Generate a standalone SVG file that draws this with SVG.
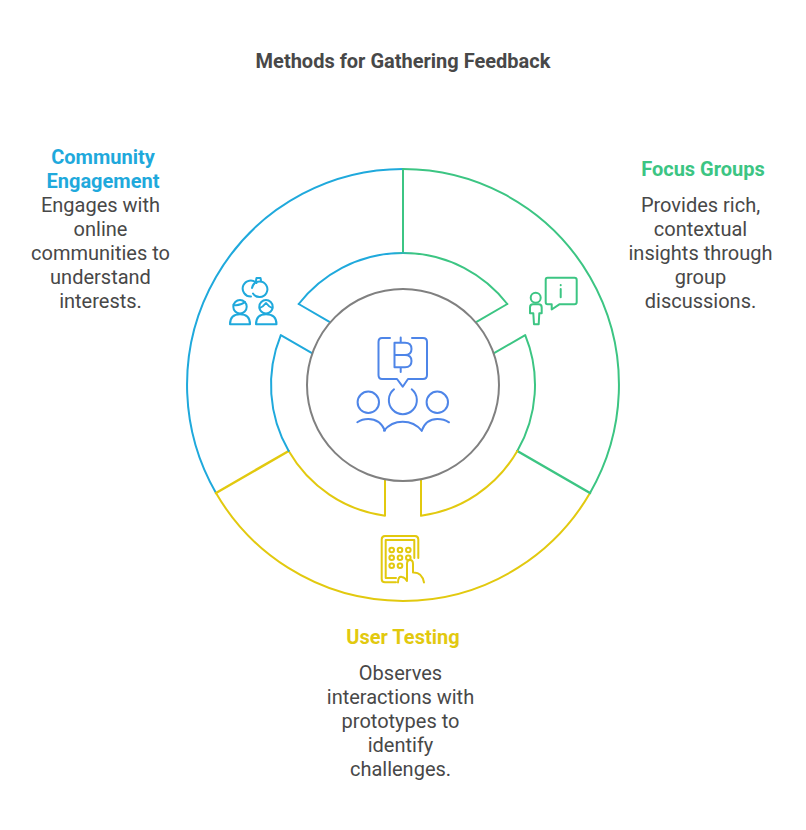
<svg xmlns="http://www.w3.org/2000/svg" width="806" height="830" viewBox="0 0 806 830">
<style>
.t{font-family:Roboto,"Liberation Sans",sans-serif;font-size:20px;fill:#484848;text-anchor:middle}
.h{font-weight:700}
.r{fill:none;stroke-width:2;stroke-linecap:round;stroke-linejoin:round}
.s{fill:none;stroke-width:2.500;stroke-linecap:round}
.i{fill:none;stroke-width:2;stroke-linecap:round;stroke-linejoin:round}
.b{stroke:#1FA9DC}.g{stroke:#3CC583}.y{stroke:#E2C90F}
</style>
<defs>
<linearGradient id="bg" gradientUnits="userSpaceOnUse" x1="393" y1="0" x2="413" y2="0"><stop offset="0" stop-color="#1FA9DC"/><stop offset="1" stop-color="#3CC583"/></linearGradient>
</defs>
<rect width="806" height="830" fill="#fff"/>
<text class="t h" x="403" y="68">Methods for Gathering Feedback</text>
<g id="connectors">
<path class="r b" d="M403 169A216 216 0 0 0 216 493"/>
<path class="r g" d="M403 169A216 216 0 0 1 590 493"/>
<path class="r y" d="M590 493A216 216 0 0 1 216 493"/>
<path class="r g" d="M403 169V253"/>
<path class="s g" d="M590 493L517.300 451"/>
<path class="s y" d="M216 493L288.700 451"/>
<path class="r" stroke="url(#bg)" d="M298.700 304A132 132 0 0 1 507.300 304"/>
<path class="r b" d="M298.700 304L330.300 322.300"/>
<path class="r g" d="M507.300 304L475.700 322.300"/>
<path class="r g" d="M493.600 353.400L525.200 335.100A132 132 0 0 1 517.300 451"/>
<path class="r y" d="M517.300 451A132 132 0 0 1 421 515.800V479"/>
<path class="r y" d="M385 479V515.800A132 132 0 0 1 288.700 451"/>
<path class="r b" d="M288.700 451A132 132 0 0 1 280.800 335.100L312.400 353.400"/>
</g>
<g id="hub">
<circle cx="403" cy="385" r="96" fill="#fff" stroke="#808080" stroke-width="2"/>
<g class="i" stroke="#4E85E8">
<path d="M390 338H382Q378.500 338 378.500 342V375Q378.500 379 382 379H397L402.700 386.700L408 379H423Q427 379 427 375V342Q427 338 423 338H412"/>
<path d="M394.500 342.700H405Q411.500 342.700 411.500 349Q411.500 355 405 355H394.500M405 355Q411.500 355 411.500 361Q411.500 367.300 405 367.300H394.500M394.500 342.700V367.300M400.700 337.500V342.700M400.700 367.300V372"/>
<circle cx="368.300" cy="402.300" r="10.700"/>
<circle cx="437.300" cy="402.300" r="10.700"/>
<path d="M394 389.300A14 14 0 1 0 411.700 389.300"/>
<path d="M357.300 422.300Q362 419 368.300 419Q380 419 385 430.700"/>
<path d="M384 430.700Q391 421.700 402.700 421.700Q414.500 421.700 421.700 430.700"/>
<path d="M421.700 430.700Q426 419 437.300 419Q444 419 449 422.300"/>
</g>
</g>
<g id="community-engagement">
<g class="i b">
<path d="M256.500 283A8 8 0 1 0 251 296.500"/>
<path d="M252 288Q253.500 281.500 259.500 281.500A7.800 7.800 0 1 1 253 293.500"/>
<path d="M256 280.500L256.500 278H260.500L261 280.500"/>
<circle cx="240" cy="306.700" r="6.700"/>
<path d="M233.500 305Q240 306 245 302"/>
<path d="M230 324.300Q230 314.300 240 314.300Q250 314.300 250 324.300Z"/>
<circle cx="266" cy="306.700" r="6.700"/>
<path d="M259.500 308Q263 307 266 303Q269 307 272.500 308"/>
<path d="M256 324.300Q256 314.300 266 314.300Q276.500 314.300 276.500 324.300Z"/>
</g>
<text class="t h" style="fill:#1FA9DC" x="103" y="164">Community</text>
<text class="t h" style="fill:#1FA9DC" x="103" y="188">Engagement</text>
<text class="t" x="100.500" y="212">Engages with</text>
<text class="t" x="100.500" y="236">online</text>
<text class="t" x="100.500" y="260">communities to</text>
<text class="t" x="100.500" y="284">understand</text>
<text class="t" x="100.500" y="308">interests.</text>
</g>
<g id="focus-groups">
<g class="i g">
<path d="M547.500 277.700H574.500Q576.700 277.700 576.700 280V302Q576.700 304.300 574.500 304.300H559.300L551.700 309.500V304.300H547.500Q545.700 304.300 545.700 302V280Q545.700 277.700 547.500 277.700Z"/>
<path d="M560.700 285V285.200M560.700 289V297.300"/>
<circle cx="535.700" cy="297.700" r="5"/>
<path d="M533 304.300H538.500Q541.700 304.300 541.700 307.500V313.300H539.300L538.700 324.300H534L533.300 313.300H530V307.500Q530 304.300 533 304.300Z"/>
</g>
<text class="t h" style="fill:#3CC583" x="703" y="176">Focus Groups</text>
<text class="t" x="700.500" y="212">Provides rich,</text>
<text class="t" x="700.500" y="236">contextual</text>
<text class="t" x="700.500" y="260">insights through</text>
<text class="t" x="700.500" y="284">group</text>
<text class="t" x="700.500" y="308">discussions.</text>
</g>
<g id="user-testing">
<g class="i y">
<path d="M418.300 558V539.500Q418.300 536 415 536H385Q381.700 536 381.700 539.500V579Q381.700 582.300 385 582.300H396"/>
<path d="M414.300 558V540H385.700V578H396"/>
<circle cx="391.700" cy="550" r="2.300"/><circle cx="400" cy="550" r="2.300"/><circle cx="408.300" cy="550" r="2.300"/>
<circle cx="391.700" cy="557.700" r="2.300"/><circle cx="400" cy="557.700" r="2.300"/><circle cx="408.300" cy="557.700" r="2.300"/>
<circle cx="391.700" cy="565.700" r="2.300"/><circle cx="400" cy="565.700" r="2.300"/>
<path d="M398 582.500Q398 576 402 577Q405 577.500 407 581V564Q407 560 410 560Q413 560 413 564V572.500Q422 572 424 582.500"/>
</g>
<text class="t h" style="fill:#E2C90F" x="403" y="644">User Testing</text>
<text class="t" x="400.500" y="680">Observes</text>
<text class="t" x="400.500" y="704">interactions with</text>
<text class="t" x="400.500" y="728">prototypes to</text>
<text class="t" x="400.500" y="752">identify</text>
<text class="t" x="400.500" y="776">challenges.</text>
</g>
</svg>
